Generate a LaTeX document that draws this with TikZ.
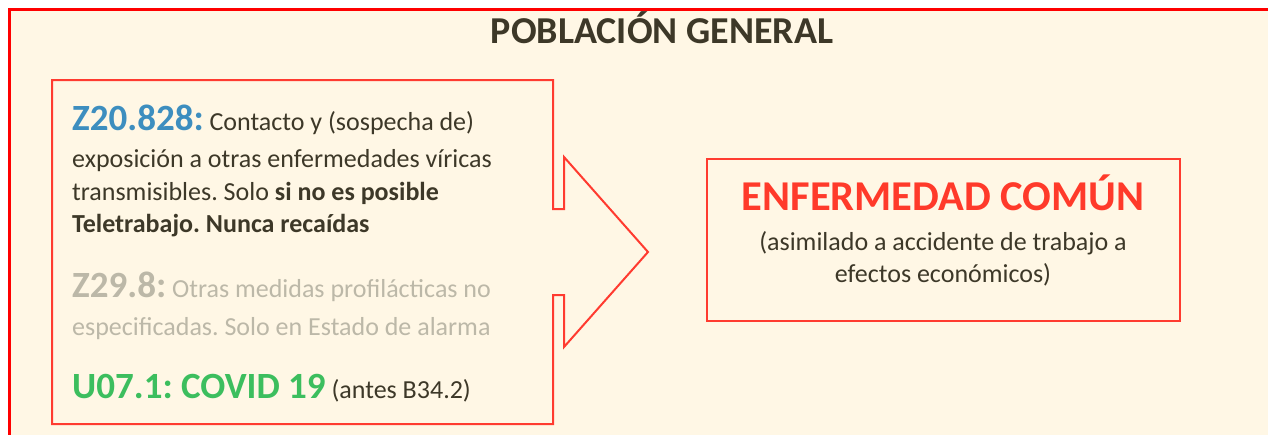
\documentclass[tikz,border=0pt]{standalone}
\usepackage{fontspec}
\setmainfont{Carlito}
\frenchspacing
\definecolor{cream}{HTML}{FFF7E5}
\definecolor{framered}{HTML}{FF0000}
\definecolor{boxred}{HTML}{FF3B30}
\definecolor{darktxt}{HTML}{3D3828}
\definecolor{codeblue}{HTML}{3D8EBF}
\definecolor{codegrey}{HTML}{BCB8A8}
\definecolor{codegreen}{HTML}{3CBE5E}
\definecolor{ecred}{HTML}{FF3A2A}
\tikzset{
  txt/.style={inner sep=0pt, anchor=base west, text=darktxt, font=\fontsize{26}{30}\selectfont\frenchspacing},
  ctr/.style={inner sep=0pt, anchor=base, text=darktxt, font=\fontsize{26}{30}\selectfont\frenchspacing},
  rbox/.style={draw=boxred, line width=2pt, fill=none, minimum width=473pt, minimum height=162pt, inner sep=0pt},
}
\newcommand{\bigcode}{\fontsize{37}{40}\selectfont\bfseries}
\begin{document}
\begin{tikzpicture}[x=1pt,y=-1pt]
\useasboundingbox (0,0) rectangle (1268,434);
\clip (0,0) rectangle (1268,434);
\fill[white] (0,0) rectangle (1268,434);
\draw[draw=framered, line width=3pt, fill=cream] (9.5,9.5) rectangle (1300,470);
\node[ctr, font=\fontsize{38}{40}\selectfont\bfseries] (title) at (662,43) {POBLACIÓN GENERAL};
% left callout
\draw[boxred, line width=2pt, line join=miter] (52,80) -- (553,80) -- (553,209) -- (564,209) -- (564,157) -- (648,252) -- (564,347) -- (564,295) -- (553,295) -- (553,424) -- (52,424) -- cycle;
\node[txt] (l1) at (72,130) {{\bigcode\color{codeblue}Z20.828:} Contacto y (sospecha de)};
\node[txt] (l2) at (72,167) {exposición a otras enfermedades víricas};
\node[txt] (l3) at (72,200) {transmisibles. Solo \textbf{si no es posible}};
\node[txt] (l4) at (72,232) {\textbf{Teletrabajo. Nunca recaídas}};
\node[txt, text=codegrey] (g1) at (72,297) {{\bigcode Z29.8:} Otras medidas profilácticas no};
\node[txt, text=codegrey] (g2) at (72,335) {especificadas. Solo en Estado de alarma};
\node[txt] (u1) at (72,398) {{\bigcode\color{codegreen}U07.1: COVID 19} (antes B34.2)};
% right box
\node[rbox] (ec) at (943.5,240) {};
\node[ctr, text=ecred, font=\fontsize{42.5}{46}\selectfont\bfseries] (ect) at (943,210) {ENFERMEDAD COMÚN};
\node[ctr] (ec1) at (943,250) {(asimilado a accidente de trabajo a};
\node[ctr] (ec2) at (943,282) {efectos económicos)};
\end{tikzpicture}
\end{document}
